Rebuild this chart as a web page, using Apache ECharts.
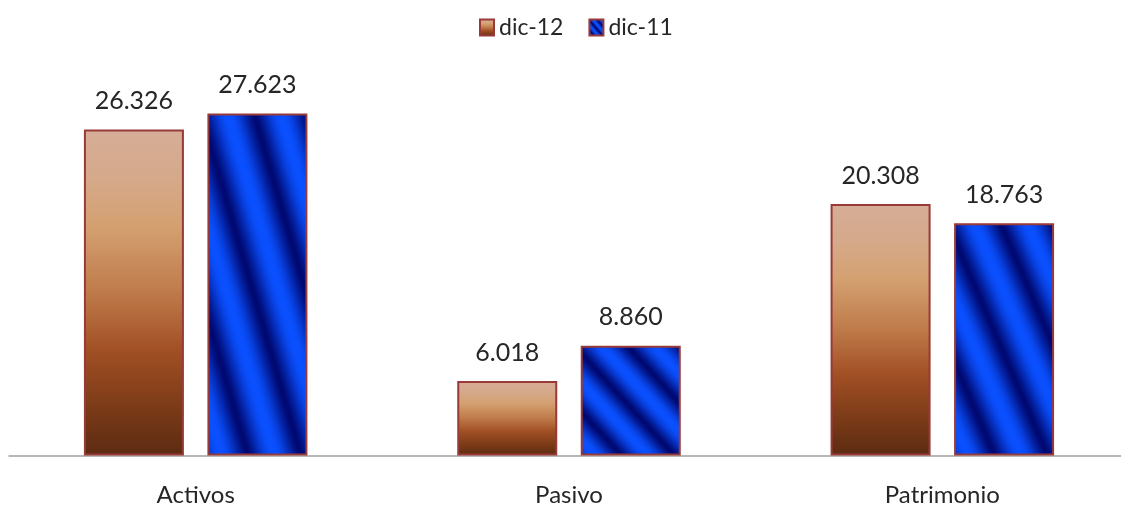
<!DOCTYPE html>
<html>
<head>
<meta charset="utf-8">
<script src="https://cdn.jsdelivr.net/npm/echarts@6/dist/echarts.min.js"></script>
<style>
  html, body { margin: 0; padding: 0; background: #ffffff; }
  #chart { width: 1121px; height: 506px; }
</style>
</head>
<body>
<div id="chart"></div>
<script>
// Balance figures (dic-12 vs dic-11)
const categories = ['Activos', 'Pasivo', 'Patrimonio'];
const seriesNames = ['dic-12', 'dic-11'];
const dic12 = [26326, 6018, 20308];
const dic11 = [27623, 8860, 18763];

// Layout constants
const AXIS_MAX = 30000;
const GRID_TOP = 84;
const GRID_HEIGHT = 371.5;
const BAR_WIDTH = 100;
const FONT = 'Lato, "Open Sans", sans-serif';

// "26326" -> "26.326"
function fmt(v) {
  return String(v).replace(/\B(?=(\d{3})+(?!\d))/g, '.');
}

// Copper fill, light on top and dark at the base
const copperFill = new echarts.graphic.LinearGradient(0, 0, 0, 1, [
  { offset: 0.00, color: '#d6ad97' },
  { offset: 0.15, color: '#d5a98a' },
  { offset: 0.30, color: '#d4a070' },
  { offset: 0.50, color: '#bf7a4a' },
  { offset: 0.68, color: '#a14f24' },
  { offset: 0.85, color: '#7c3b18' },
  { offset: 1.00, color: '#5c2b12' }
]);

// Blue diagonal bands stretched with the bar box (stripes follow the box diagonal)
function mix(a, b, s) {
  const pa = [parseInt(a.slice(1, 3), 16), parseInt(a.slice(3, 5), 16), parseInt(a.slice(5, 7), 16)];
  const pb = [parseInt(b.slice(1, 3), 16), parseInt(b.slice(3, 5), 16), parseInt(b.slice(5, 7), 16)];
  const c = pa.map((x, i) => Math.round(x + (pb[i] - x) * s));
  return 'rgb(' + c.join(',') + ')';
}
function stripeFill(w, h) {
  const k = 2 / (1 / (w * w) + 1 / (h * h));
  const x2 = k / (w * w);
  const y2 = 1 - k / (h * h);
  const stops = [];
  const N = 120, period = 0.53, phase = 0.2;
  for (let i = 0; i <= N; i++) {
    const t = i / N;
    const f = 2 * t - 1;
    const s = (1 + Math.cos(2 * Math.PI * (f - phase) / period)) / 2;
    stops.push({ offset: t, color: mix('#000870', '#0a50ff', Math.pow(s, 0.72)) });
  }
  return new echarts.graphic.LinearGradient(0, 1, x2, y2, stops);
}
function barHeight(v) {
  return v / AXIS_MAX * GRID_HEIGHT;
}

const labelStyle = {
  show: true,
  position: 'top',
  distance: 16,
  color: '#262626',
  fontFamily: FONT,
  fontSize: 25,
  formatter: p => fmt(p.value)
};

const chart = echarts.init(document.getElementById('chart'), null, { renderer: 'canvas' });
chart.setOption({
  animation: false,
  backgroundColor: '#ffffff',
  legend: {
    data: seriesNames,
    left: 474,
    top: 11,
    itemWidth: 14,
    itemHeight: 16,
    itemGap: 25,
    icon: 'rect',
    textStyle: { color: '#262626', fontFamily: FONT, fontSize: 23 }
  },
  grid: {
    left: 9, top: GRID_TOP, width: 1120, height: GRID_HEIGHT,
    outerBoundsMode: 'none', containLabel: false
  },
  xAxis: {
    type: 'category',
    data: categories,
    axisLine: { lineStyle: { color: '#a0a0a0', width: 1.5 } },
    axisTick: { show: false },
    axisLabel: { color: '#262626', fontFamily: FONT, fontSize: 24, margin: 28 }
  },
  yAxis: {
    type: 'value',
    min: 0,
    max: AXIS_MAX,
    show: false,
    splitLine: { show: false }
  },
  series: [
    {
      name: seriesNames[0],
      type: 'bar',
      barWidth: BAR_WIDTH,
      barGap: '23.5%',
      itemStyle: { color: copperFill, borderColor: '#983a38', borderWidth: 2 },
      label: labelStyle,
      data: dic12
    },
    {
      name: seriesNames[1],
      type: 'bar',
      barWidth: BAR_WIDTH,
      barGap: '23.5%',
      itemStyle: { color: stripeFill(14, 16), borderColor: '#983a38', borderWidth: 2 },
      label: labelStyle,
      data: dic11.map(v => ({ value: v, itemStyle: { color: stripeFill(BAR_WIDTH, barHeight(v)) } }))
    }
  ]
});
</script>
</body>
</html>
